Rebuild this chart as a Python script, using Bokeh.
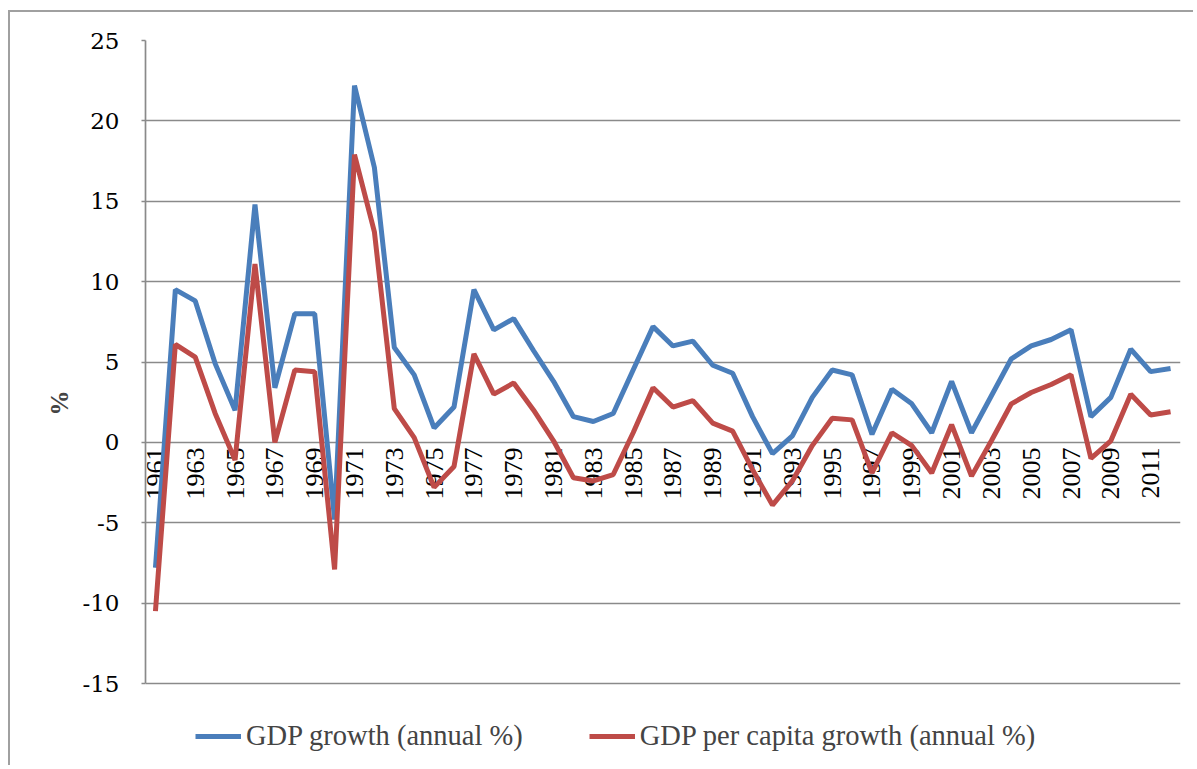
import math
from bokeh.plotting import figure
from bokeh.models import FixedTicker, Legend, LegendItem, ColumnDataSource
from bokeh.core.properties import value
from bokeh.embed import file_html
from bokeh.resources import INLINE

years = list(range(1961, 2013))
gdp_growth = [-7.8, 9.5, 8.8, 4.9, 2.0, 14.8, 3.4, 8.0, 8.0, -4.8,
              22.2, 17.1, 5.9, 4.2, 0.9, 2.2, 9.5, 7.0, 7.7, 5.7,
              3.8, 1.6, 1.3, 1.8, 4.5, 7.2, 6.0, 6.3, 4.8, 4.3,
              1.6, -0.7, 0.4, 2.8, 4.5, 4.2, 0.5, 3.3, 2.4, 0.6,
              3.8, 0.6, 2.9, 5.2, 6.0, 6.4, 7.0, 1.6, 2.8, 5.8,
              4.4, 4.6]
gdp_pc_growth = [-10.5, 6.1, 5.3, 1.8, -1.1, 11.1, 0.0, 4.5, 4.4, -7.9,
                 17.9, 13.1, 2.1, 0.3, -2.8, -1.5, 5.5, 3.0, 3.7, 2.0,
                 0.1, -2.2, -2.4, -2.0, 0.6, 3.4, 2.2, 2.6, 1.2, 0.7,
                 -1.7, -3.9, -2.4, -0.2, 1.5, 1.4, -1.9, 0.6, -0.2, -1.9,
                 1.1, -2.1, 0.1, 2.4, 3.1, 3.6, 4.2, -1.0, 0.1, 3.0,
                 1.7, 1.9]
year_ticks = years[::2]
year_labels = [str(y) for y in year_ticks]
y_ticks = [-15, -10, -5, 0, 5, 10, 15, 20, 25]
y_tick_labels = {t: str(t) for t in y_ticks}
series_names = ["GDP growth (annual %)", "GDP per capita growth (annual %)"]

# the frame runs on below -15 to leave room for the legend inside it
p = figure(width=1185, height=755, output_backend="svg", toolbar_location=None,
           x_range=(1960.5, 2012.5), y_range=(-20.1, 25),
           x_axis_location=None,
           min_border_left=135, min_border_right=15, min_border_top=28,
           min_border_bottom=2)
p.styles = {"margin-left": "8px", "margin-top": "10px",
            "border-left": "2px solid #a0a0a0", "border-top": "2px solid #a0a0a0"}
p.outline_line_color = None
p.background_fill_color = "white"
p.border_fill_color = "white"

grid_color = "#8a8a8a"
p.xgrid.visible = False
p.ygrid.ticker = FixedTicker(ticks=y_ticks)
p.ygrid.grid_line_color = grid_color
p.ygrid.grid_line_width = 1.7
p.ygrid.bounds = (-15, 25)

yax = p.yaxis[0]
yax.bounds = (-15, 25)
yax.ticker = FixedTicker(ticks=y_ticks)
yax.major_label_overrides = y_tick_labels
yax.axis_line_color = grid_color
yax.axis_line_width = 1.7
yax.major_tick_line_color = grid_color
yax.major_tick_line_width = 1.7
yax.major_tick_out = 4
yax.major_tick_in = 0
yax.minor_tick_line_color = None
yax.major_label_standoff = 22
yax.major_label_text_font = "DejaVu Serif"
yax.major_label_text_font_size = "23px"
yax.major_label_text_color = "black"
yax.axis_label = "%"
yax.axis_label_text_font = "Liberation Serif"
yax.axis_label_text_font_style = "bold"
yax.axis_label_text_font_size = "25px"
yax.axis_label_standoff = 6

# category labels sitting on the zero line
lab_src = ColumnDataSource(dict(x=year_ticks, y=[0] * len(year_ticks), t=year_labels))
p.text(x="x", y="y", text="t", source=lab_src, angle=math.pi / 2,
       text_align="right", text_baseline="middle", y_offset=5,
       text_font=value("Liberation Serif"), text_font_size="26px",
       text_color="black")

r1 = p.line(years, gdp_growth, line_color="#4a7ebb", line_width=5)
r2 = p.line(years, gdp_pc_growth, line_color="#be4b48", line_width=5)

legend = Legend(items=[LegendItem(label=series_names[0], renderers=[r1]),
                       LegendItem(label=series_names[1], renderers=[r2])],
                orientation="horizontal", location=(50, 13),
                border_line_color=None, background_fill_alpha=0,
                padding=0, margin=0, spacing=66, glyph_width=46,
                glyph_height=30, label_height=30, label_standoff=5,
                label_text_font="Liberation Serif", label_text_font_size="28.5px")
p.add_layout(legend, "center")

open("out.html", "w").write(file_html(p, INLINE))
